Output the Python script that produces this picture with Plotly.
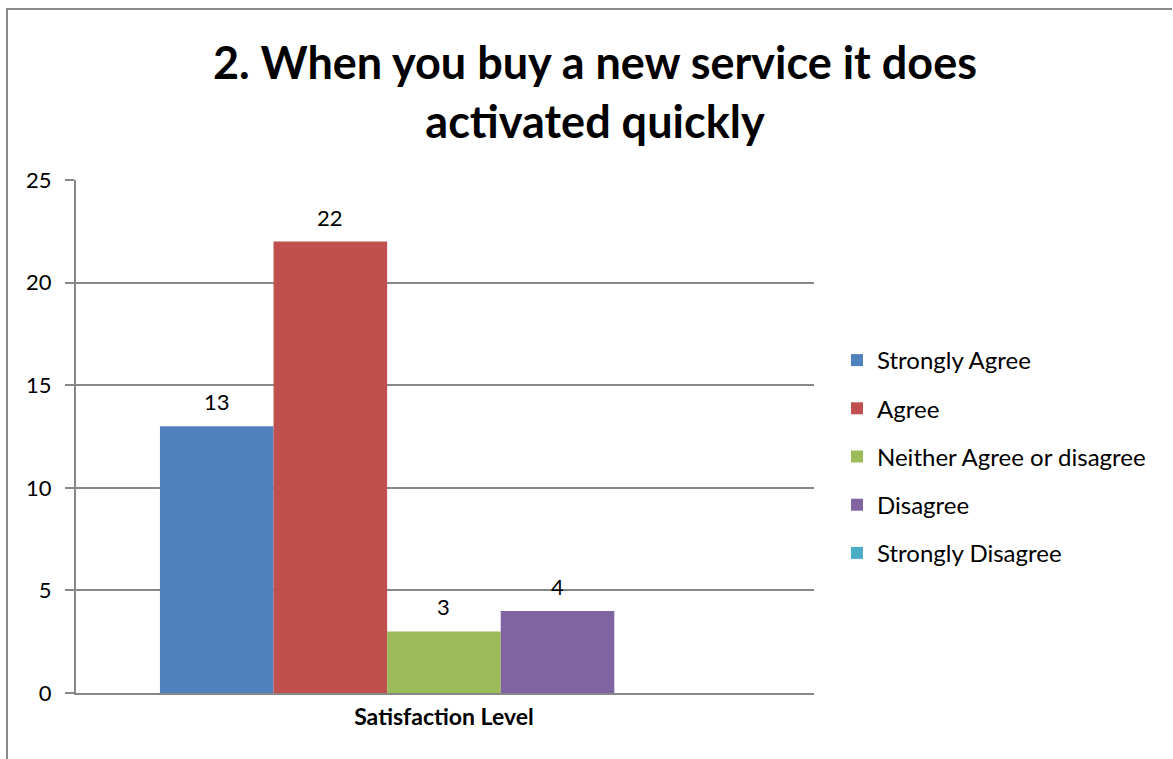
import plotly.graph_objects as go

# Survey responses for question 2
category = "Satisfaction Level"
series_names = ["Strongly Agree", "Agree", "Neither Agree or disagree", "Disagree", "Strongly Disagree"]
series_values = [13, 22, 3, 4, 0]
series_labels = ["13", "22", "3", "4", ""]
series_colors = ["#4F81BD", "#C0504D", "#9BBB59", "#8064A2", "#4BACC6"]
y_ticks = [0, 5, 10, 15, 20, 25]

title_lines = ["2. When you buy a new service it does", "activated quickly"]

W, H = 1173, 759
ML, MR, MT, MB = 76, W - 814, 180, H - 693
PW, PH = W - ML - MR, H - MT - MB
grid = "#878787"
font = "Lato"


def px_x(p):
    return (p - ML) / PW


def px_y(p):
    return (693 - p) / PH


fig = go.Figure()
for i, (name, val, col) in enumerate(zip(series_names, series_values, series_colors)):
    fig.add_trace(go.Bar(
        x=[i], y=[val], width=[1.0], name=name,
        marker=dict(color=col, line=dict(width=0)),
        legendgroup=name,
        hoverinfo="skip",
    ))

# value labels above each bar
for i, (val, lab) in enumerate(zip(series_values, series_labels)):
    if lab:
        fig.add_annotation(
            x=i, y=val, text=lab, showarrow=False,
            xref="x", yref="y", yanchor="bottom", yshift=9,
            font=dict(family=font, size=22, color="#000000"),
        )

# chart title, two centred lines
fig.add_annotation(
    xref="paper", yref="paper",
    x=px_x(595), xanchor="center",
    y=px_y(33), yanchor="top",
    text="<b>" + "<br>".join(title_lines) + "</b>",
    showarrow=False, align="center",
    font=dict(family=font, size=45, color="#000000"),
)

# outer chart border: left and top edges
border = dict(color="#8a8a8a", width=2)
fig.add_shape(type="line", xref="paper", yref="paper",
              x0=px_x(7), x1=px_x(7), y0=px_y(H + 5), y1=px_y(8), line=border)
fig.add_shape(type="line", xref="paper", yref="paper",
              x0=px_x(6), x1=px_x(1172), y0=px_y(9), y1=px_y(9), line=border)

fig.update_layout(
    width=W, height=H,
    margin=dict(l=ML, r=MR, t=MT, b=MB, pad=0),
    paper_bgcolor="white", plot_bgcolor="white",
    barmode="group",
    showlegend=True,
    legend=dict(
        x=px_x(837), xanchor="left",
        y=px_y(338), yanchor="top",
        font=dict(family=font, size=24, color="#000000"),
        tracegroupgap=14,
        traceorder="grouped",
        bgcolor="rgba(0,0,0,0)",
        itemclick=False,
    ),
    xaxis=dict(
        range=[-1.239, 5.258],
        tickmode="array", tickvals=[2], ticktext=["<b>" + category + "</b>"],
        tickfont=dict(family=font, size=23, color="#000000"),
        ticks="", showgrid=False, zeroline=False,
        showline=True, linecolor=grid, linewidth=2,
        ticklabelstandoff=2,
        fixedrange=True,
    ),
    yaxis=dict(
        range=[0, 25],
        tickmode="array", tickvals=y_ticks,
        tickfont=dict(family=font, size=22, color="#000000"),
        ticks="outside", ticklen=9, tickcolor=grid, tickwidth=1.5,
        showgrid=True, gridcolor=grid, gridwidth=1.5,
        zeroline=False,
        showline=True, linecolor=grid, linewidth=2,
        ticklabelstandoff=9,
        fixedrange=True,
    ),
)

fig.write_html("out.html", config={"displayModeBar": False})
